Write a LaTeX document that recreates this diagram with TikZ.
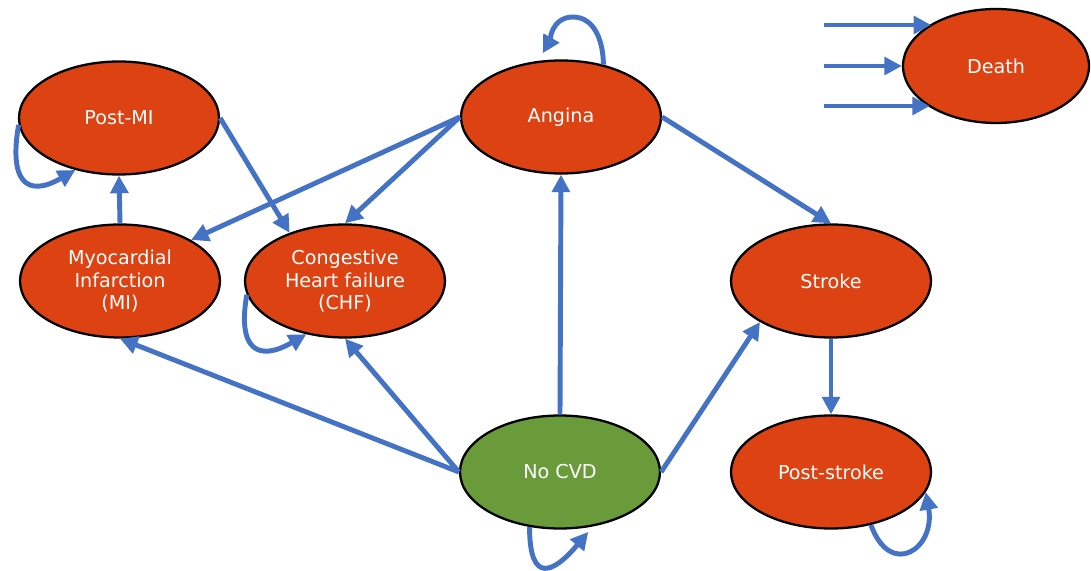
\documentclass[tikz,border=0pt]{standalone}
\usepackage{fontspec}
\setmainfont{DejaVu Sans}
\usetikzlibrary{arrows.meta,shapes.geometric}
\definecolor{sickred}{RGB}{221,66,18}
\definecolor{wellgreen}{RGB}{106,155,59}
\definecolor{arrblue}{RGB}{68,114,196}

\begin{document}
\begin{tikzpicture}[
    state/.style={draw, ellipse, line width=1.3pt, fill=sickred, minimum width=4cm, minimum height=2.26cm, inner sep=0pt, align=center, text=white, font=\fontsize{10.9}{13}\selectfont},
    well/.style={state, fill=wellgreen},
    arr/.style={-{Triangle[length=10pt, width=10pt]}, line width=2.8pt, draw=arrblue}
]
\useasboundingbox (0,0) rectangle (21.82,11.4);

\node[state] (pmi) at (2.38,9.04) {Post-MI};
\node[state] (ang) at (11.22,9.06) {Angina};
\node[state, minimum width=3.72cm, minimum height=2.28cm] (death) at (19.92,10.08) {Death};
\node[state] (mi) at (2.40,5.78) {Myocardial\\Infarction\\(MI)};
\node[state] (chf) at (6.90,5.78) {Congestive\\Heart failure\\(CHF)};
\node[state] (stroke) at (16.62,5.78) {Stroke};
\node[well] (nocvd) at (11.20,1.96) {No CVD};
\node[state] (pstroke) at (16.62,1.96) {Post-stroke};

% arrows into death from every state
\coordinate (d1) at (16.48,10.90);
\coordinate (d2) at (16.48,10.08);
\coordinate (d3) at (16.48,9.28);
\draw[arr] (d1) -- (d1 -| death.147.6);
\draw[arr] (d2) -- (death.west);
\draw[arr] (d3) -- (d3 -| death.212.4);

\draw[arr] (mi.north) -- (pmi.south);
\draw[arr] (pmi.east) -- (chf.139);
\draw[arr] (ang.west) -- (mi.30);
\draw[arr] (ang.west) -- (chf.north);
\draw[arr] (ang.east) -- (stroke.north);
\draw[arr] (nocvd.north) -- (ang.south);
\draw[arr] (nocvd.west) -- (mi.south);
\draw[arr] (nocvd.west) -- (chf.south);
\draw[arr] (nocvd.east) -- (stroke.210);
\draw[arr] (stroke.south) -- (pstroke.north);

% staying in the same state
\coordinate (atop) at (11.46,11.06);
\draw[arr] (pmi.184) to[out=-100, in=210, looseness=2] (pmi.230);
\draw[arr] (chf.188) to[out=-100, in=210, looseness=2] (chf.234);
\draw[arr, shorten >=5pt] (ang.51) to[out=90, in=0] (atop) to[out=180, in=60] (ang.112);
\draw[arr, shorten >=4pt] (nocvd.241) to[out=-90, in=230, looseness=2.4] (nocvd.301);
\draw[arr] (pstroke.307) to[out=-70, in=280, looseness=2.3] (pstroke.348);
\end{tikzpicture}
\end{document}
